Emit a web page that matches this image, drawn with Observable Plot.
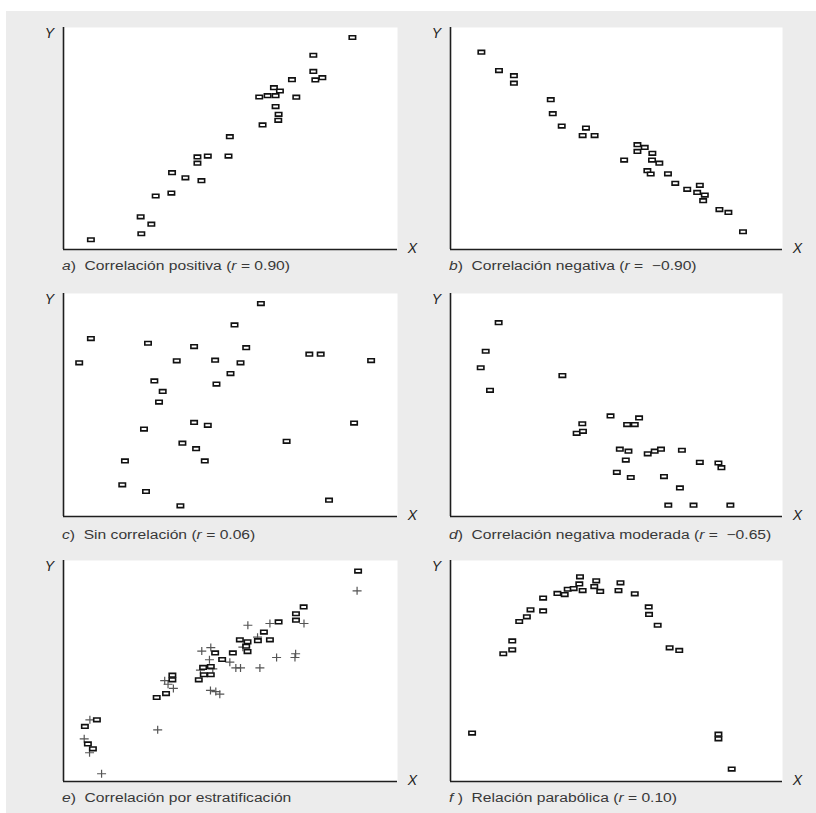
<!DOCTYPE html>
<html>
<head>
<meta charset="utf-8">
<script src="https://cdn.jsdelivr.net/npm/d3@7"></script>
<script src="https://cdn.jsdelivr.net/npm/@observablehq/plot@0.6"></script>
<style>
  html, body { margin: 0; padding: 0; background: #ffffff; }
  #page { position: relative; width: 816px; height: 813px; overflow: hidden; }
  #bg { position: absolute; left: 6px; top: 11px; right: 0; bottom: 0; background: #ececec; }
  .panel { position: absolute; }
  .panel svg { overflow: visible; }
  .cap { position: absolute; font-family: "Liberation Sans", Arial, sans-serif; font-size: 12.5px;
         color: #383838; white-space: pre; line-height: 14px; transform: scaleX(1.25); transform-origin: 0 0; }
</style>
</head>
<body>
<div id="page"><div id="bg"></div></div>
<script>
// ---- data (x, y on a 0–100 scale for each panel) ----
const aX = [8.2, 23.1, 23.3, 26.3, 27.6, 32.3, 32.5, 36.5, 41.3, 40.1, 40.1, 43.2, 49.4, 49.8, 59.6, 58.6, 61.1, 63.5, 63.0, 64.8, 63.5, 64.4, 64.3, 68.4, 69.7, 74.8, 74.8, 75.4, 77.5, 86.5];
const aY = [4.4, 14.7, 7.1, 11.4, 24.1, 25.4, 34.6, 32.3, 31.0, 41.7, 38.9, 42.1, 42.1, 50.8, 56.1, 68.7, 69.3, 69.3, 72.9, 71.4, 64.4, 60.9, 58.2, 76.5, 68.6, 87.5, 80.2, 76.4, 77.4, 95.5];

const bX = [9.3, 14.6, 19.1, 19.1, 30.2, 30.8, 33.5, 40.8, 39.8, 43.4, 52.3, 56.3, 58.5, 56.3, 60.8, 60.7, 62.9, 59.3, 60.3, 65.5, 67.7, 71.3, 75.1, 74.3, 76.6, 76.1, 81.0, 83.7, 88.1];
const bY = [88.9, 80.6, 78.3, 74.9, 67.5, 61.2, 55.6, 54.7, 51.3, 51.3, 40.3, 47.2, 46.0, 44.2, 43.3, 40.3, 38.9, 35.5, 34.0, 34.1, 29.8, 27.1, 28.9, 25.7, 24.5, 22.0, 18.0, 16.7, 8.0];

const cX = [4.7, 8.2, 25.3, 33.9, 39.1, 45.4, 51.2, 59.1, 54.7, 53.0, 50.0, 45.8, 27.2, 29.7, 28.6, 73.6, 77.0, 92.1, 24.1, 39.1, 43.2, 35.6, 39.7, 42.3, 18.4, 66.8, 87.0, 17.6, 24.7, 35.0, 79.5];
const cY = [68.9, 79.8, 77.7, 69.8, 76.2, 70.1, 85.9, 95.5, 75.7, 68.9, 64.1, 59.4, 60.8, 56.1, 51.3, 72.8, 72.8, 69.9, 39.2, 42.2, 40.9, 32.9, 30.4, 24.9, 24.9, 33.7, 41.9, 14.2, 11.2, 4.8, 7.3];

const dX = [14.5, 10.6, 9.1, 11.9, 33.7, 39.7, 38.0, 39.9, 48.2, 53.2, 55.5, 56.8, 51.0, 53.6, 52.8, 50.1, 54.3, 59.4, 61.5, 63.4, 69.7, 64.3, 75.1, 80.7, 81.6, 69.1, 65.6, 73.2, 84.3];
const dY = [86.9, 74.1, 66.7, 56.6, 63.2, 41.6, 37.3, 38.2, 45.1, 41.2, 41.2, 44.2, 30.2, 29.3, 25.3, 19.8, 17.5, 28.1, 29.3, 30.2, 29.7, 17.9, 24.3, 24.0, 21.9, 12.8, 5.1, 5.1, 5.1];

const eSqX = [88.2, 71.9, 69.6, 69.6, 64.4, 60.0, 58.2, 61.8, 52.8, 55.1, 54.7, 55.1, 50.7, 45.4, 47.5, 41.8, 44.1, 42.0, 44.1, 40.5, 32.6, 32.6, 30.7, 27.9, 10.0, 6.4, 7.3, 8.8];
const eSqY = [95.2, 79.0, 75.9, 73.0, 72.2, 67.6, 63.7, 64.1, 64.1, 63.2, 61.2, 58.8, 58.2, 58.2, 55.2, 51.6, 52.0, 48.3, 48.3, 46.0, 48.1, 46.0, 39.8, 38.0, 27.9, 24.9, 17.0, 14.8];
const ePlusX = [87.9, 72.0, 61.8, 55.2, 58.1, 53.7, 41.4, 44.1, 43.7, 49.8, 51.6, 53.0, 58.8, 63.8, 69.3, 69.5, 41.0, 44.7, 30.3, 31.3, 32.9, 44.0, 45.6, 46.8, 28.2, 7.9, 6.2, 7.8, 11.4];
const ePlusY = [86.3, 71.5, 71.5, 70.7, 65.3, 60.8, 59.0, 60.6, 55.1, 54.0, 51.4, 51.4, 51.4, 56.1, 56.1, 57.8, 50.4, 51.0, 45.6, 44.0, 42.1, 41.2, 40.7, 39.5, 23.4, 27.9, 19.3, 13.0, 3.5];

const fX = [6.5, 15.9, 18.6, 18.6, 20.7, 23.0, 24.1, 27.9, 27.9, 32.2, 34.4, 35.3, 37.1, 38.8, 39.0, 39.8, 43.3, 43.9, 45.1, 50.6, 51.2, 55.5, 59.7, 59.8, 62.4, 66.0, 68.9, 80.7, 80.7, 84.7];
const fY = [21.9, 57.8, 59.6, 63.6, 72.4, 74.5, 77.7, 77.2, 83.0, 85.1, 84.6, 87.0, 87.3, 89.4, 92.6, 86.4, 88.2, 90.8, 86.0, 86.4, 89.9, 84.9, 79.0, 75.6, 70.7, 60.5, 59.3, 21.4, 19.3, 5.6];

const captions = [
  "<i>a</i>)  Correlación positiva (<i>r</i> = 0.90)",
  "<i>b</i>)  Correlación negativa (<i>r</i> =  −0.90)",
  "<i>c</i>)  Sin correlación (<i>r</i> = 0.06)",
  "<i>d</i>)  Correlación negativa moderada (<i>r</i> =  −0.65)",
  "<i>e</i>)  Correlación por estratificación",
  "<i>f</i> )  Relación parabólica (<i>r</i> = 0.10)"
];
const axisNames = { x: "X", y: "Y" };

// ---- layout ----
const colLeft = [63, 450];
const colWidth = [334, 332];
const rowTop = [27, 293, 560];
const rowHeight = [222, 223, 221];
const capBaseline = [270, 539, 802];

const M = { l: 26, r: 26, t: 12, b: 12 };

const rectSymbol = { draw(ctx) { ctx.rect(-3.2, -1.8, 6.4, 3.6); } };
const plusSymbol = { draw(ctx) { ctx.moveTo(-4.5, 0); ctx.lineTo(4.5, 0); ctx.moveTo(0, -4); ctx.lineTo(0, 4); } };

function toRows(xs, ys) { return xs.map((x, i) => ({ x, y: ys[i] })); }

function panel(series, col, row, idx) {
  const w = colWidth[col], h = rowHeight[row];
  const marks = [
    Plot.frame({ fill: "white", stroke: null }),
    Plot.ruleX([0], { stroke: "#1e1e1e", strokeWidth: 1.6 }),
    Plot.ruleY([0], { stroke: "#1e1e1e", strokeWidth: 1.6 }),
    Plot.text([axisNames.y], { frameAnchor: "top-left", dx: -14, dy: 6, textAnchor: "middle", lineAnchor: "middle",
      fontSize: 14, fontStyle: "italic", fill: "#222", fontFamily: "Liberation Sans, Arial, sans-serif" }),
    Plot.text([axisNames.x], { frameAnchor: "bottom-right", dx: 15, dy: -1, textAnchor: "middle", lineAnchor: "middle",
      fontSize: 14, fontStyle: "italic", fill: "#222", fontFamily: "Liberation Sans, Arial, sans-serif" })
  ];
  for (const s of series) {
    if (s.kind === "plus") {
      marks.push(Plot.dot(toRows(s.x, s.y), { x: "x", y: "y", symbol: plusSymbol, stroke: "#555", strokeWidth: 1.2, fill: "none" }));
    } else {
      marks.push(Plot.dot(toRows(s.x, s.y), { x: "x", y: "y", symbol: rectSymbol, stroke: "#111", strokeWidth: 1.6, fill: "white" }));
    }
  }
  const svg = Plot.plot({
    width: w + M.l + M.r,
    height: h + M.t + M.b,
    marginLeft: M.l, marginRight: M.r, marginTop: M.t, marginBottom: M.b,
    x: { domain: [0, 100], axis: null },
    y: { domain: [0, 100], axis: null },
    style: { background: "transparent", overflow: "visible" },
    marks
  });
  const div = document.createElement("div");
  div.className = "panel";
  div.style.left = (colLeft[col] - M.l) + "px";
  div.style.top = (rowTop[row] - M.t) + "px";
  div.appendChild(svg);
  document.getElementById("page").appendChild(div);

  const cap = document.createElement("div");
  cap.className = "cap";
  cap.innerHTML = captions[idx];
  cap.style.left = (colLeft[col] - 1) + "px";
  cap.style.top = (capBaseline[row] - 11) + "px";
  document.getElementById("page").appendChild(cap);
}

panel([{ kind: "sq", x: aX, y: aY }], 0, 0, 0);
panel([{ kind: "sq", x: bX, y: bY }], 1, 0, 1);
panel([{ kind: "sq", x: cX, y: cY }], 0, 1, 2);
panel([{ kind: "sq", x: dX, y: dY }], 1, 1, 3);
panel([{ kind: "plus", x: ePlusX, y: ePlusY }, { kind: "sq", x: eSqX, y: eSqY }], 0, 2, 4);
panel([{ kind: "sq", x: fX, y: fY }], 1, 2, 5);
</script>
</body>
</html>
